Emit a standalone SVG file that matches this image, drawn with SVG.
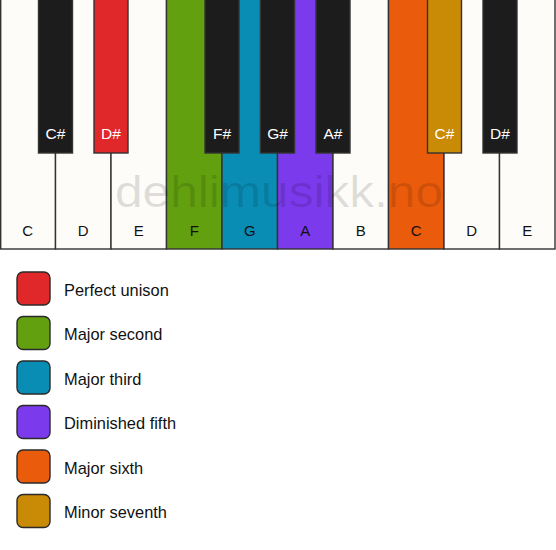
<svg xmlns="http://www.w3.org/2000/svg" width="556" height="550" viewBox="0 0 556 550">
<defs>
<style>
.wk{fill:#fdfcf9;stroke:#333;stroke-width:1.4}
.bk{fill:#1c1c1c;stroke:#333;stroke-width:1.4}
.wl{font-family:"Liberation Sans",Arial,sans-serif;font-size:15px;fill:#111;text-anchor:middle}
.bl{font-family:"Liberation Sans",Arial,sans-serif;font-size:15.5px;fill:#fff;text-anchor:middle}
.sw{stroke:#2a2a2a;stroke-width:1.4}
.lt{font-family:"Liberation Sans",Arial,sans-serif;font-size:16.4px;fill:#111}
.red{fill:#e0282b}.grn{fill:#62a00f}.tea{fill:#0a8db5}.pur{fill:#7b3aec}.org{fill:#ea5b0c}.gld{fill:#c98a06}
</style>
</defs>
<rect width="556" height="550" fill="#ffffff"/>
<g id="white-keys">
<g id="wk-C1"><rect class="wk" x="0.7" y="-1" width="54.8" height="250"/><text class="wl" x="27.75" y="235.5">C</text></g>
<g id="wk-D1"><rect class="wk" x="55.5" y="-1" width="55.5" height="250"/><text class="wl" x="83.25" y="235.5">D</text></g>
<g id="wk-E1"><rect class="wk" x="111" y="-1" width="55.5" height="250"/><text class="wl" x="138.75" y="235.5">E</text></g>
<g id="wk-F1"><rect class="wk grn" x="166.5" y="-1" width="55.5" height="250"/><text class="wl" x="194.25" y="235.5">F</text></g>
<g id="wk-G1"><rect class="wk tea" x="222" y="-1" width="55.5" height="250"/><text class="wl" x="249.75" y="235.5">G</text></g>
<g id="wk-A1"><rect class="wk pur" x="277.5" y="-1" width="55.5" height="250"/><text class="wl" x="305.25" y="235.5">A</text></g>
<g id="wk-B1"><rect class="wk" x="333" y="-1" width="55.5" height="250"/><text class="wl" x="360.75" y="235.5">B</text></g>
<g id="wk-C2"><rect class="wk org" x="388.5" y="-1" width="55.5" height="250"/><text class="wl" x="416.25" y="235.5">C</text></g>
<g id="wk-D2"><rect class="wk" x="444" y="-1" width="55.5" height="250"/><text class="wl" x="471.75" y="235.5">D</text></g>
<g id="wk-E2"><rect class="wk" x="499.5" y="-1" width="55.5" height="250"/><text class="wl" x="527.25" y="235.5">E</text></g>
</g>
<g id="black-keys">
<g id="bk-Cs1"><rect class="bk" x="38.5" y="-1" width="34" height="154"/><text class="bl" x="55.5" y="138.5">C#</text></g>
<g id="bk-Ds1"><rect class="bk red" x="94" y="-1" width="34" height="154"/><text class="bl" x="111" y="138.5">D#</text></g>
<g id="bk-Fs1"><rect class="bk" x="205" y="-1" width="34" height="154"/><text class="bl" x="222" y="138.5">F#</text></g>
<g id="bk-Gs1"><rect class="bk" x="260.5" y="-1" width="34" height="154"/><text class="bl" x="277.5" y="138.5">G#</text></g>
<g id="bk-As1"><rect class="bk" x="316" y="-1" width="34" height="154"/><text class="bl" x="333" y="138.5">A#</text></g>
<g id="bk-Cs2"><rect class="bk gld" x="427.5" y="-1" width="34" height="154"/><text class="bl" x="444.5" y="138.5">C#</text></g>
<g id="bk-Ds2"><rect class="bk" x="483" y="-1" width="34" height="154"/><text class="bl" x="500" y="138.5">D#</text></g>
</g>
<g id="watermark"><text x="115" y="207" font-family="'Liberation Sans',Arial,sans-serif" font-size="45" fill="#000" fill-opacity="0.12" textLength="328" lengthAdjust="spacingAndGlyphs">dehlimusikk.no</text></g>
<g id="legend">
<g id="lg-1"><rect class="sw red" x="17" y="272" width="33" height="33" rx="6"/><text class="lt" x="64" y="295.5">Perfect unison</text></g>
<g id="lg-2"><rect class="sw grn" x="17" y="316.5" width="33" height="33" rx="6"/><text class="lt" x="64" y="340">Major second</text></g>
<g id="lg-3"><rect class="sw tea" x="17" y="361" width="33" height="33" rx="6"/><text class="lt" x="64" y="384.5">Major third</text></g>
<g id="lg-4"><rect class="sw pur" x="17" y="405.5" width="33" height="33" rx="6"/><text class="lt" x="64" y="429">Diminished fifth</text></g>
<g id="lg-5"><rect class="sw org" x="17" y="450" width="33" height="33" rx="6"/><text class="lt" x="64" y="473.5">Major sixth</text></g>
<g id="lg-6"><rect class="sw gld" x="17" y="494.5" width="33" height="33" rx="6"/><text class="lt" x="64" y="518">Minor seventh</text></g>
</g>
<g id="connectors"/>
</svg>
